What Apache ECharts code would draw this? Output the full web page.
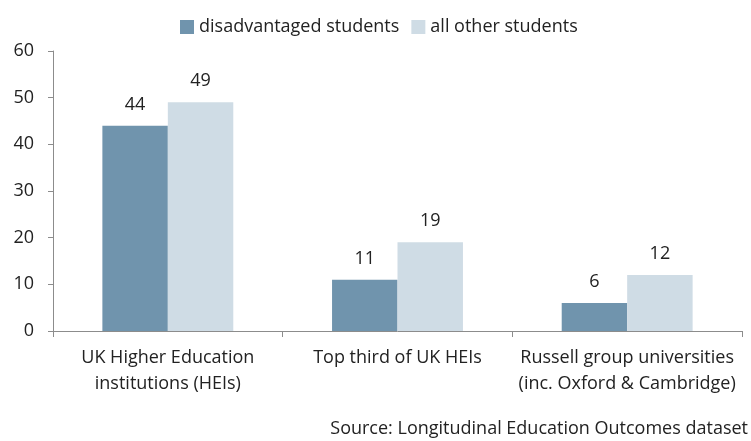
<!DOCTYPE html>
<html>
<head>
<meta charset="utf-8">
<script src="https://cdn.jsdelivr.net/npm/echarts@6/dist/echarts.min.js"></script>
<style>
html, body { margin: 0; padding: 0; background: #fff; }
#chart { width: 751px; height: 441px; }
</style>
</head>
<body>
<div id="chart"></div>
<script>
var categories = ['UK Higher Education\ninstitutions (HEIs)', 'Top third of UK HEIs', 'Russell group universities\n(inc. Oxford & Cambridge)'];
var disadvantaged = [44, 11, 6];
var allOther = [49, 19, 12];
var yTicks = { min: 0, max: 60, interval: 10 };

var font = '"Open Sans", sans-serif';
var myChart = echarts.init(document.getElementById('chart'));
var option = {
    animation: false,
    textStyle: { fontFamily: font },
    legend: {
        top: 13,
        left: 175,
        itemWidth: 14,
        itemHeight: 14,
        itemGap: 12,
        icon: 'rect',
        textStyle: { fontSize: 18, color: '#222', fontFamily: font },
        data: ['disadvantaged students', 'all other students']
    },
    graphic: [{
        type: 'text',
        right: 3,
        bottom: 3,
        style: { text: 'Source: Longitudinal Education Outcomes dataset', fontSize: 18, fill: '#222', fontFamily: font }
    }],
    grid: { left: 53, right: 9, top: 51, bottom: 110 },
    xAxis: {
        type: 'category',
        data: categories,
        axisLine: { lineStyle: { color: '#8c8c8c' } },
        axisTick: { show: true, length: 6, lineStyle: { color: '#8c8c8c' } },
        axisLabel: { interval: 0, fontSize: 18, color: '#222', lineHeight: 26, margin: 14, fontFamily: font }
    },
    yAxis: {
        type: 'value',
        min: yTicks.min,
        max: yTicks.max,
        interval: yTicks.interval,
        axisLine: { show: true, lineStyle: { color: '#8c8c8c' } },
        axisTick: { show: true, length: 5, lineStyle: { color: '#8c8c8c' } },
        splitLine: { show: false },
        axisLabel: { fontSize: 18, color: '#222', margin: 19, fontFamily: font }
    },
    series: [{
        name: 'disadvantaged students',
        type: 'bar',
        data: disadvantaged,
        barGap: '0%',
        barCategoryGap: '43%',
        itemStyle: { color: '#7094ad' },
        label: { show: true, position: 'top', distance: 12, fontSize: 18, color: '#222', fontFamily: font }
    }, {
        name: 'all other students',
        type: 'bar',
        data: allOther,
        barGap: '0%',
        barCategoryGap: '43%',
        itemStyle: { color: '#cfdce5' },
        label: { show: true, position: 'top', distance: 12, fontSize: 18, color: '#222', fontFamily: font }
    }]
};
myChart.setOption(option);
</script>
</body>
</html>
